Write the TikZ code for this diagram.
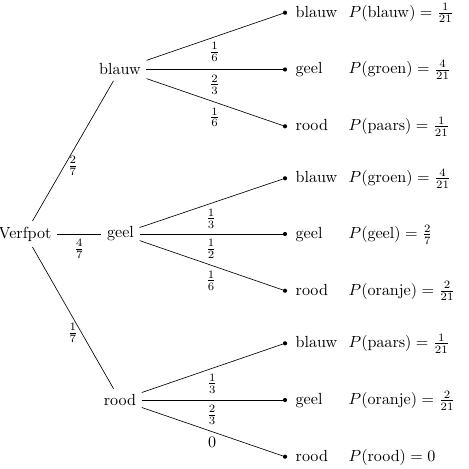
\documentclass[tikz,border=0pt]{standalone}
\begin{document}
\begin{tikzpicture}[x=0.02183cm,y=-0.02183cm,
  dot/.style={circle,fill,inner sep=0pt,minimum size=2.6pt},
  leaf/.style={anchor=base west}]
\useasboundingbox (0,0) rectangle (469,469);
\node (verf) at (25,234) {Verfpot};
\node (b) at (120,69.5) {blauw};
\node (g) at (120.5,234) {geel};
\node (r) at (120,400) {rood};
\node[dot] (bb) at (285,12.7) {};
\node[dot] (bg) at (285,69.5) {};
\node[dot] (br) at (285,126.3) {};
\node[dot] (gb) at (285,178.3) {};
\node[dot] (gg) at (285,234) {};
\node[dot] (gr) at (285,290.7) {};
\node[dot] (rb) at (285,343.3) {};
\node[dot] (rg) at (285,400) {};
\node[dot] (rr) at (285,456.7) {};
\draw (verf) -- node[below] {$\frac{2}{7}$} (b);
\draw (verf) -- node[below] {$\frac{4}{7}$} (g);
\draw (verf) -- node[below] {$\frac{1}{7}$} (r);
\draw (b) -- node[below] {$\frac{1}{6}$} (bb);
\draw (b) -- node[below] {$\frac{2}{3}$} (bg);
\draw (b) -- node[below] {$\frac{1}{6}$} (br);
\draw (g) -- node[below] {$\frac{1}{3}$} (gb);
\draw (g) -- node[below] {$\frac{1}{2}$} (gg);
\draw (g) -- node[below] {$\frac{1}{6}$} (gr);
\draw (r) -- node[below] {$\frac{1}{3}$} (rb);
\draw (r) -- node[below] {$\frac{2}{3}$} (rg);
\draw (r) -- node[below] {$0$} (rr);
\node[leaf] (bbl) at (290,17.2) {blauw};
\node[leaf] (bgl) at (290,74) {geel};
\node[leaf] (brl) at (290,130.8) {rood};
\node[leaf] (gbl) at (290,182.8) {blauw};
\node[leaf] (ggl) at (290,238.5) {geel};
\node[leaf] (grl) at (290,295.2) {rood};
\node[leaf] (rbl) at (290,347.8) {blauw};
\node[leaf] (rgl) at (290,404.5) {geel};
\node[leaf] (rrl) at (290,461.2) {rood};
\node[leaf] (bbp) at (343,17.2) {$P(\mathrm{blauw})=\frac{1}{21}$};
\node[leaf] (bgp) at (343,74) {$P(\mathrm{groen})=\frac{4}{21}$};
\node[leaf] (brp) at (343,130.8) {$P(\mathrm{paars})=\frac{1}{21}$};
\node[leaf] (gbp) at (343,182.8) {$P(\mathrm{groen})=\frac{4}{21}$};
\node[leaf] (ggp) at (343,238.5) {$P(\mathrm{geel})=\frac{2}{7}$};
\node[leaf] (grp) at (343,295.2) {$P(\mathrm{oranje})=\frac{2}{21}$};
\node[leaf] (rbp) at (343,347.8) {$P(\mathrm{paars})=\frac{1}{21}$};
\node[leaf] (rgp) at (343,404.5) {$P(\mathrm{oranje})=\frac{2}{21}$};
\node[leaf] (rrp) at (343,461.2) {$P(\mathrm{rood})=0$};
\end{tikzpicture}
\end{document}
